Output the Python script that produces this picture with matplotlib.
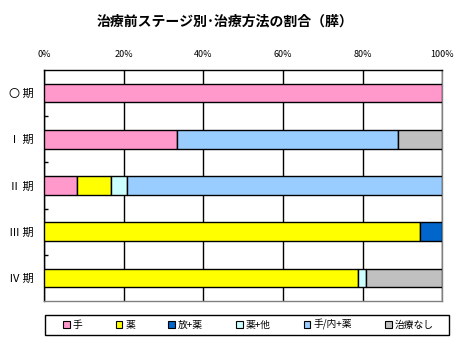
import numpy as np
import matplotlib
matplotlib.use("Agg")
import matplotlib.pyplot as plt
from matplotlib.patches import Patch, Rectangle

plt.rcParams["font.family"] = ["Noto Sans CJK JP", "DejaVu Sans"]

stages = ["〇 期", "Ⅰ 期", "Ⅱ 期", "Ⅲ 期", "Ⅳ 期"]
methods = ["手", "薬", "放+薬", "薬+他", "手/内+薬", "治療なし"]
colors = ["#FF99CC", "#FFFF00", "#0066CC", "#CCFFFF", "#99CCFF", "#C0C0C0"]

# percentages per stage, in method order
shu = [100.0, 33.3, 8.3, 0.0, 0.0]
yaku = [0.0, 0.0, 8.4, 94.4, 78.9]
hou_yaku = [0.0, 0.0, 0.0, 5.6, 0.0]
yaku_ta = [0.0, 0.0, 4.1, 0.0, 2.1]
shu_nai_yaku = [0.0, 55.6, 79.2, 0.0, 0.0]
nashi = [0.0, 11.1, 0.0, 0.0, 19.0]

series = [shu, yaku, hou_yaku, yaku_ta, shu_nai_yaku, nashi]

fig = plt.figure(figsize=(4.73, 3.41), dpi=100)
ax = fig.add_axes([0.094, 0.1173, 0.8405, 0.6774])

y = np.arange(len(stages))
left = np.zeros(len(stages))
for vals, c in zip(series, colors):
    vals = np.array(vals)
    m = vals > 0
    ax.barh(y[m], vals[m], left=left[m], height=0.4, color=c,
            edgecolor="black", linewidth=1, zorder=3)
    left += vals

ax.set_xlim(0, 100)
ax.set_ylim(4.5, -0.5)
ax.set_xticks([0, 20, 40, 60, 80, 100])
ax.set_xticklabels(["0%", "20%", "40%", "60%", "80%", "100%"], fontsize=6.5)
ax.xaxis.tick_top()
ax.tick_params(axis="x", length=0, pad=8)
ax.grid(axis="x", color="black", linewidth=1, zorder=0)

ax.set_yticks(y)
ax.set_yticklabels(stages, fontsize=8)
ax.tick_params(axis="y", length=0, pad=8)
ax.set_yticks([0.5, 1.5, 2.5, 3.5], minor=True)
ax.tick_params(axis="y", which="minor", direction="in", length=3, width=1)

ax.spines["top"].set_color("black")
ax.spines["left"].set_color("black")
ax.spines["right"].set_color("#808080")
ax.spines["bottom"].set_color("#808080")
for s in ax.spines.values():
    s.set_linewidth(1)

fig.text(0.476, 0.938, "治療前ステージ別･治療方法の割合（膵）", ha="center", va="center",
         fontsize=10, fontweight="bold")

# legend frame drawn separately, entries centred inside it
fig.patches.append(Rectangle((0.095, 0.0176), 0.854, 0.0587, transform=fig.transFigure,
                             facecolor="white", edgecolor="black", linewidth=1))
handles = [Patch(facecolor=c, edgecolor="black", linewidth=0.8) for c in colors]
leg = fig.legend(handles, methods, loc="center", ncol=6,
                 bbox_to_anchor=(0.525, 0.047),
                 fontsize=7, frameon=False, borderaxespad=0,
                 handlelength=0.7, handleheight=0.7, handletextpad=0.3,
                 columnspacing=3.4, borderpad=0.2)

fig.savefig("out.png", dpi=100)
